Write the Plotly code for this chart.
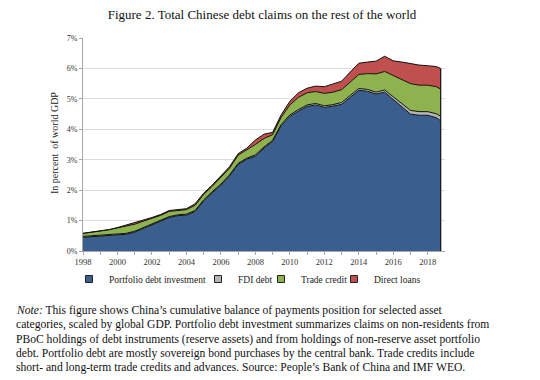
import plotly.graph_objects as go

# ---- data (percent of world GDP), half-yearly readings ----
periods = [1998.0, 1998.5, 1999.0, 1999.5, 2000.0, 2000.5, 2001.0, 2001.5, 2002.0, 2002.5,
           2003.0, 2003.5, 2004.0, 2004.5, 2005.0, 2005.5, 2006.0, 2006.5, 2007.0, 2007.5,
           2008.0, 2008.5, 2009.0, 2009.5, 2010.0, 2010.5, 2011.0, 2011.5, 2012.0, 2012.5,
           2013.0, 2013.5, 2014.0, 2014.5, 2015.0, 2015.5, 2016.0, 2016.5, 2017.0, 2017.5,
           2018.0, 2018.5, 2018.75]

portfolio = [0.45, 0.47, 0.49, 0.51, 0.54, 0.55, 0.62, 0.74, 0.84, 0.96,
             1.10, 1.16, 1.18, 1.30, 1.65, 1.92, 2.17, 2.47, 2.85, 3.02,
             3.12, 3.38, 3.60, 4.12, 4.42, 4.60, 4.75, 4.80, 4.72, 4.76,
             4.82, 5.05, 5.28, 5.25, 5.16, 5.22, 4.98, 4.72, 4.50, 4.46,
             4.46, 4.38, 4.28]

fdi_debt = [0.03, 0.03, 0.03, 0.03, 0.03, 0.03, 0.03, 0.03, 0.03, 0.03,
            0.03, 0.03, 0.03, 0.03, 0.03, 0.03, 0.03, 0.03, 0.03, 0.03,
            0.04, 0.04, 0.04, 0.04, 0.05, 0.05, 0.05, 0.05, 0.05, 0.05,
            0.06, 0.06, 0.06, 0.06, 0.06, 0.07, 0.09, 0.11, 0.12, 0.12,
            0.12, 0.13, 0.15]

trade_credit = [0.10, 0.12, 0.13, 0.16, 0.19, 0.24, 0.23, 0.21, 0.20, 0.18,
                0.17, 0.15, 0.15, 0.17, 0.18, 0.18, 0.22, 0.22, 0.27, 0.27,
                0.34, 0.28, 0.18, 0.24, 0.33, 0.40, 0.40, 0.39, 0.41, 0.41,
                0.42, 0.44, 0.46, 0.52, 0.60, 0.61, 0.69, 0.81, 0.88, 0.87,
                0.87, 0.89, 0.89]

direct_loans = [0.00, 0.00, 0.00, 0.00, 0.01, 0.03, 0.05, 0.05, 0.03, 0.03,
                0.03, 0.02, 0.03, 0.05, 0.04, 0.04, 0.04, 0.05, 0.05, 0.06,
                0.15, 0.14, 0.08, 0.08, 0.12, 0.15, 0.15, 0.18, 0.22, 0.26,
                0.28, 0.33, 0.37, 0.38, 0.42, 0.50, 0.49, 0.57, 0.65, 0.66,
                0.64, 0.66, 0.68]

series_names = ["Portfolio debt investment", "FDI debt", "Trade credit", "Direct loans"]
series_colors = ["#3a5f8f", "#b4b4b4", "#8eb24e", "#c0504d"]
year_ticks = list(range(1998, 2019))
y_ticks = [0, 1, 2, 3, 4, 5, 6, 7]

title_text = "Figure 2. Total Chinese debt claims on the rest of the world"
note_lines = [
    "<i>Note:</i> This figure shows China\u2019s cumulative balance of payments position for selected asset",
    "categories, scaled by global GDP. Portfolio debt investment summarizes claims on non-residents from",
    "PBoC holdings of debt instruments (reserve assets) and from holdings of non-reserve asset portfolio",
    "debt. Portfolio debt are mostly sovereign bond purchases by the central bank. Trade credits include",
    "short- and long-term trade credits and advances. Source: People\u2019s Bank of China and IMF WEO.",
]

# ---- layout geometry (page pixels; the page body adds an 8px offset) ----
OFF = 8
W, H = 540 - OFF, 380 - OFF
PLOT_L, PLOT_R, PLOT_T, PLOT_B = 83, 445, 38, 251   # page pixel box of the plot area
ML = PLOT_L - OFF
MT = PLOT_T - OFF
MR = W - (PLOT_R - OFF)
MB = H - (PLOT_B - OFF)
PH = PLOT_B - PLOT_T
PW = PLOT_R - PLOT_L


def py(ypx):
    return (PLOT_B - ypx) / PH


def px(xpx):
    return (xpx - PLOT_L) / PW


def cx(xpx):
    return (xpx - OFF) / W


def cy(ypx):
    return (H - (ypx - OFF)) / H


SERIF = "Liberation Serif, Times New Roman, serif"

fig = go.Figure()
all_series = [portfolio, fdi_debt, trade_credit, direct_loans]
for name, vals, col in zip(series_names, all_series, series_colors):
    fig.add_trace(go.Scatter(
        x=periods, y=vals, name=name, mode="lines", stackgroup="one",
        line=dict(color="#111111", width=1), fillcolor=col, showlegend=False,
        hoverinfo="x+y+name",
    ))

# right-edge border of the stacked area
total_last = sum(s[-1] for s in all_series)
fig.add_trace(go.Scatter(x=[periods[-1], periods[-1]], y=[0, total_last], mode="lines",
                         line=dict(color="#111111", width=1.2), showlegend=False,
                         hoverinfo="skip"))

# legend entries with square swatches, one small legend per entry
legend_ids = ["legend", "legend2", "legend3", "legend4"]
legend_left = [69, 198, 261, 334]   # page px of each legend box's left edge
for name, col, lid in zip(series_names, series_colors, legend_ids):
    fig.add_trace(go.Scatter(
        x=[None], y=[None], mode="markers", name=name, legend=lid,
        marker=dict(symbol="square", size=7, color=col, line=dict(color="#222222", width=1)),
    ))

legend_common = dict(orientation="h", xref="container", yref="container",
                     xanchor="left", yanchor="middle", y=cy(279),
                     font=dict(family=SERIF, size=9.5, color="#222222"),
                     itemwidth=30, bgcolor="rgba(0,0,0,0)", borderwidth=0)

fig.update_layout(
    width=W, height=H,
    margin=dict(l=ML, r=MR, t=MT, b=MB, autoexpand=False),
    paper_bgcolor="white", plot_bgcolor="white",
    font=dict(family=SERIF, color="#222222"),
    title=dict(text=title_text, x=cx(262), xanchor="center",
               y=cy(14), yanchor="middle",
               xref="container", yref="container",
               font=dict(family=SERIF, size=13, color="#111111")),
    showlegend=True,
    legend=dict(x=cx(legend_left[0]), **legend_common),
    legend2=dict(x=cx(legend_left[1]), **legend_common),
    legend3=dict(x=cx(legend_left[2]), **legend_common),
    legend4=dict(x=cx(legend_left[3]), **legend_common),
    xaxis=dict(range=[1998, 2019], tickmode="array", tickvals=year_ticks,
               ticktext=[str(y) if (y - 1998) % 2 == 0 else "" for y in year_ticks],
               showgrid=False, zeroline=False, showline=True, linecolor="#a6a6a6", linewidth=1,
               ticks="outside", ticklen=3, tickcolor="#a6a6a6",
               tickfont=dict(family=SERIF, size=8.5, color="#333333")),
    yaxis=dict(range=[0, 7], tickmode="array", tickvals=y_ticks,
               ticktext=[f"{v}%" for v in y_ticks],
               showgrid=True, gridcolor="#dcdcdc", gridwidth=1, zeroline=False,
               showline=True, linecolor="#a6a6a6", linewidth=1,
               ticks="outside", ticklen=3, tickcolor="#a6a6a6",
               tickfont=dict(family=SERIF, size=8, color="#333333")),
)

fig.add_annotation(text="In percent  of world GDP", textangle=-90, x=px(54), y=py(143),
                   xref="paper", yref="paper", showarrow=False, xanchor="center", yanchor="middle",
                   font=dict(family=SERIF, size=10, color="#222222"))

line_ys = [310, 324.5, 339, 353, 367]
for txt, ly in zip(note_lines, line_ys):
    fig.add_annotation(text=txt, x=px(14), y=py(ly), xref="paper", yref="paper",
                       showarrow=False, xanchor="left", yanchor="middle", align="left",
                       font=dict(family=SERIF, size=11.6, color="#111111"))

fig.write_html("out.html")
